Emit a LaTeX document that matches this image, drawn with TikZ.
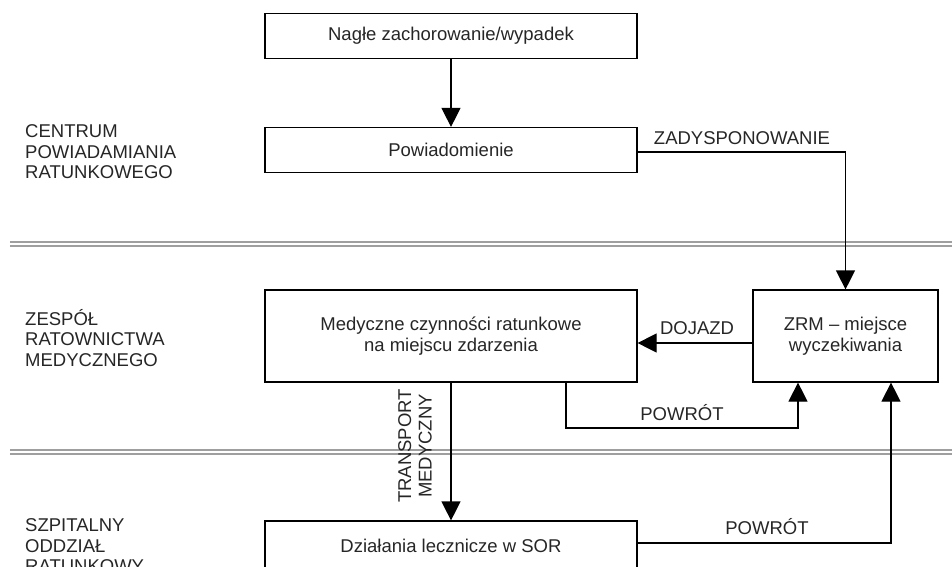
\documentclass[tikz,border=0pt]{standalone}
\usepackage{fontspec}
\setmainfont{Liberation Sans}
\usetikzlibrary{arrows.meta}

\begin{document}
\begin{tikzpicture}[x=1pt, y=-1pt,
	box/.style={draw, line width=1.2pt, minimum width=372pt, minimum height=45pt, inner sep=0pt, align=center},
	arr/.style={line width=1.2pt, -{Triangle[length=19pt, width=19pt]}},
	line/.style={line width=1.2pt},
	sep/.style={draw=gray!75, line width=3.6pt, double=white, double distance=1.2pt},
	lbl/.style={anchor=west, align=left, inner sep=0pt},
	every node/.style={font=\fontsize{18.5}{20.5}\selectfont, text=black!85}]
	\useasboundingbox (0,0) rectangle (952,566);
	\clip (0,0) rectangle (952,566);

	\draw[draw=gray!75, line width=1.2pt] (10,242) -- (952,242) (10,246) -- (952,246);
	\draw[draw=gray!75, line width=1.2pt] (10,450) -- (952,450) (10,454) -- (952,454);

	\node[lbl] (cpr) at (25,152) {CENTRUM\\POWIADAMIANIA\\RATUNKOWEGO};
	\node[lbl] (zesp) at (25,338) {ZESPÓŁ\\RATOWNICTWA\\MEDYCZNEGO};
	\node[lbl] (szp) at (25,546) {SZPITALNY\\ODDZIAŁ\\RATUNKOWY};

	\node[box] (nagle) at (451,36) {Nagłe zachorowanie/wypadek};
	\node[box] (powiad) at (451,150) {Powiadomienie};
	\node[box, minimum height=92pt] (med) at (451,336) {Medyczne czynności ratunkowe\\na miejscu zdarzenia};
	\node[box, minimum height=92pt, minimum width=185pt] (zrm) at (845.5,336) {ZRM -- miejsce\\wyczekiwania};
	\node[box, minimum height=50pt] (sor) at (451,546) {Działania lecznicze w SOR};

	\draw[arr] (nagle) -- (powiad);
	\draw[arr] ([yshift=-2pt]powiad.east) -| (zrm.north);
	\node (zad) at (742,138) {ZADYSPONOWANIE};

	\draw[arr] ([yshift=-7pt]zrm.west) -- ([yshift=-7pt]med.east);
	\node (doj) at (697,328) {DOJAZD};

	\coordinate (ret1) at (682,428);
	\draw[arr] ([xshift=115pt]med.south) |- (ret1) -| ([xshift=-47.5pt]zrm.south);
	\node (pow1) at (682,413) {POWRÓT};

	\draw[arr] (med) -- (sor);
	\node[rotate=90, align=center, inner sep=0pt] (trans) at (415,446) {TRANSPORT\\MEDYCZNY};

	\draw[arr] ([yshift=3pt]sor.east) -| ([xshift=45.5pt]zrm.south);
	\node (pow2) at (767,527) {POWRÓT};
\end{tikzpicture}
\end{document}
